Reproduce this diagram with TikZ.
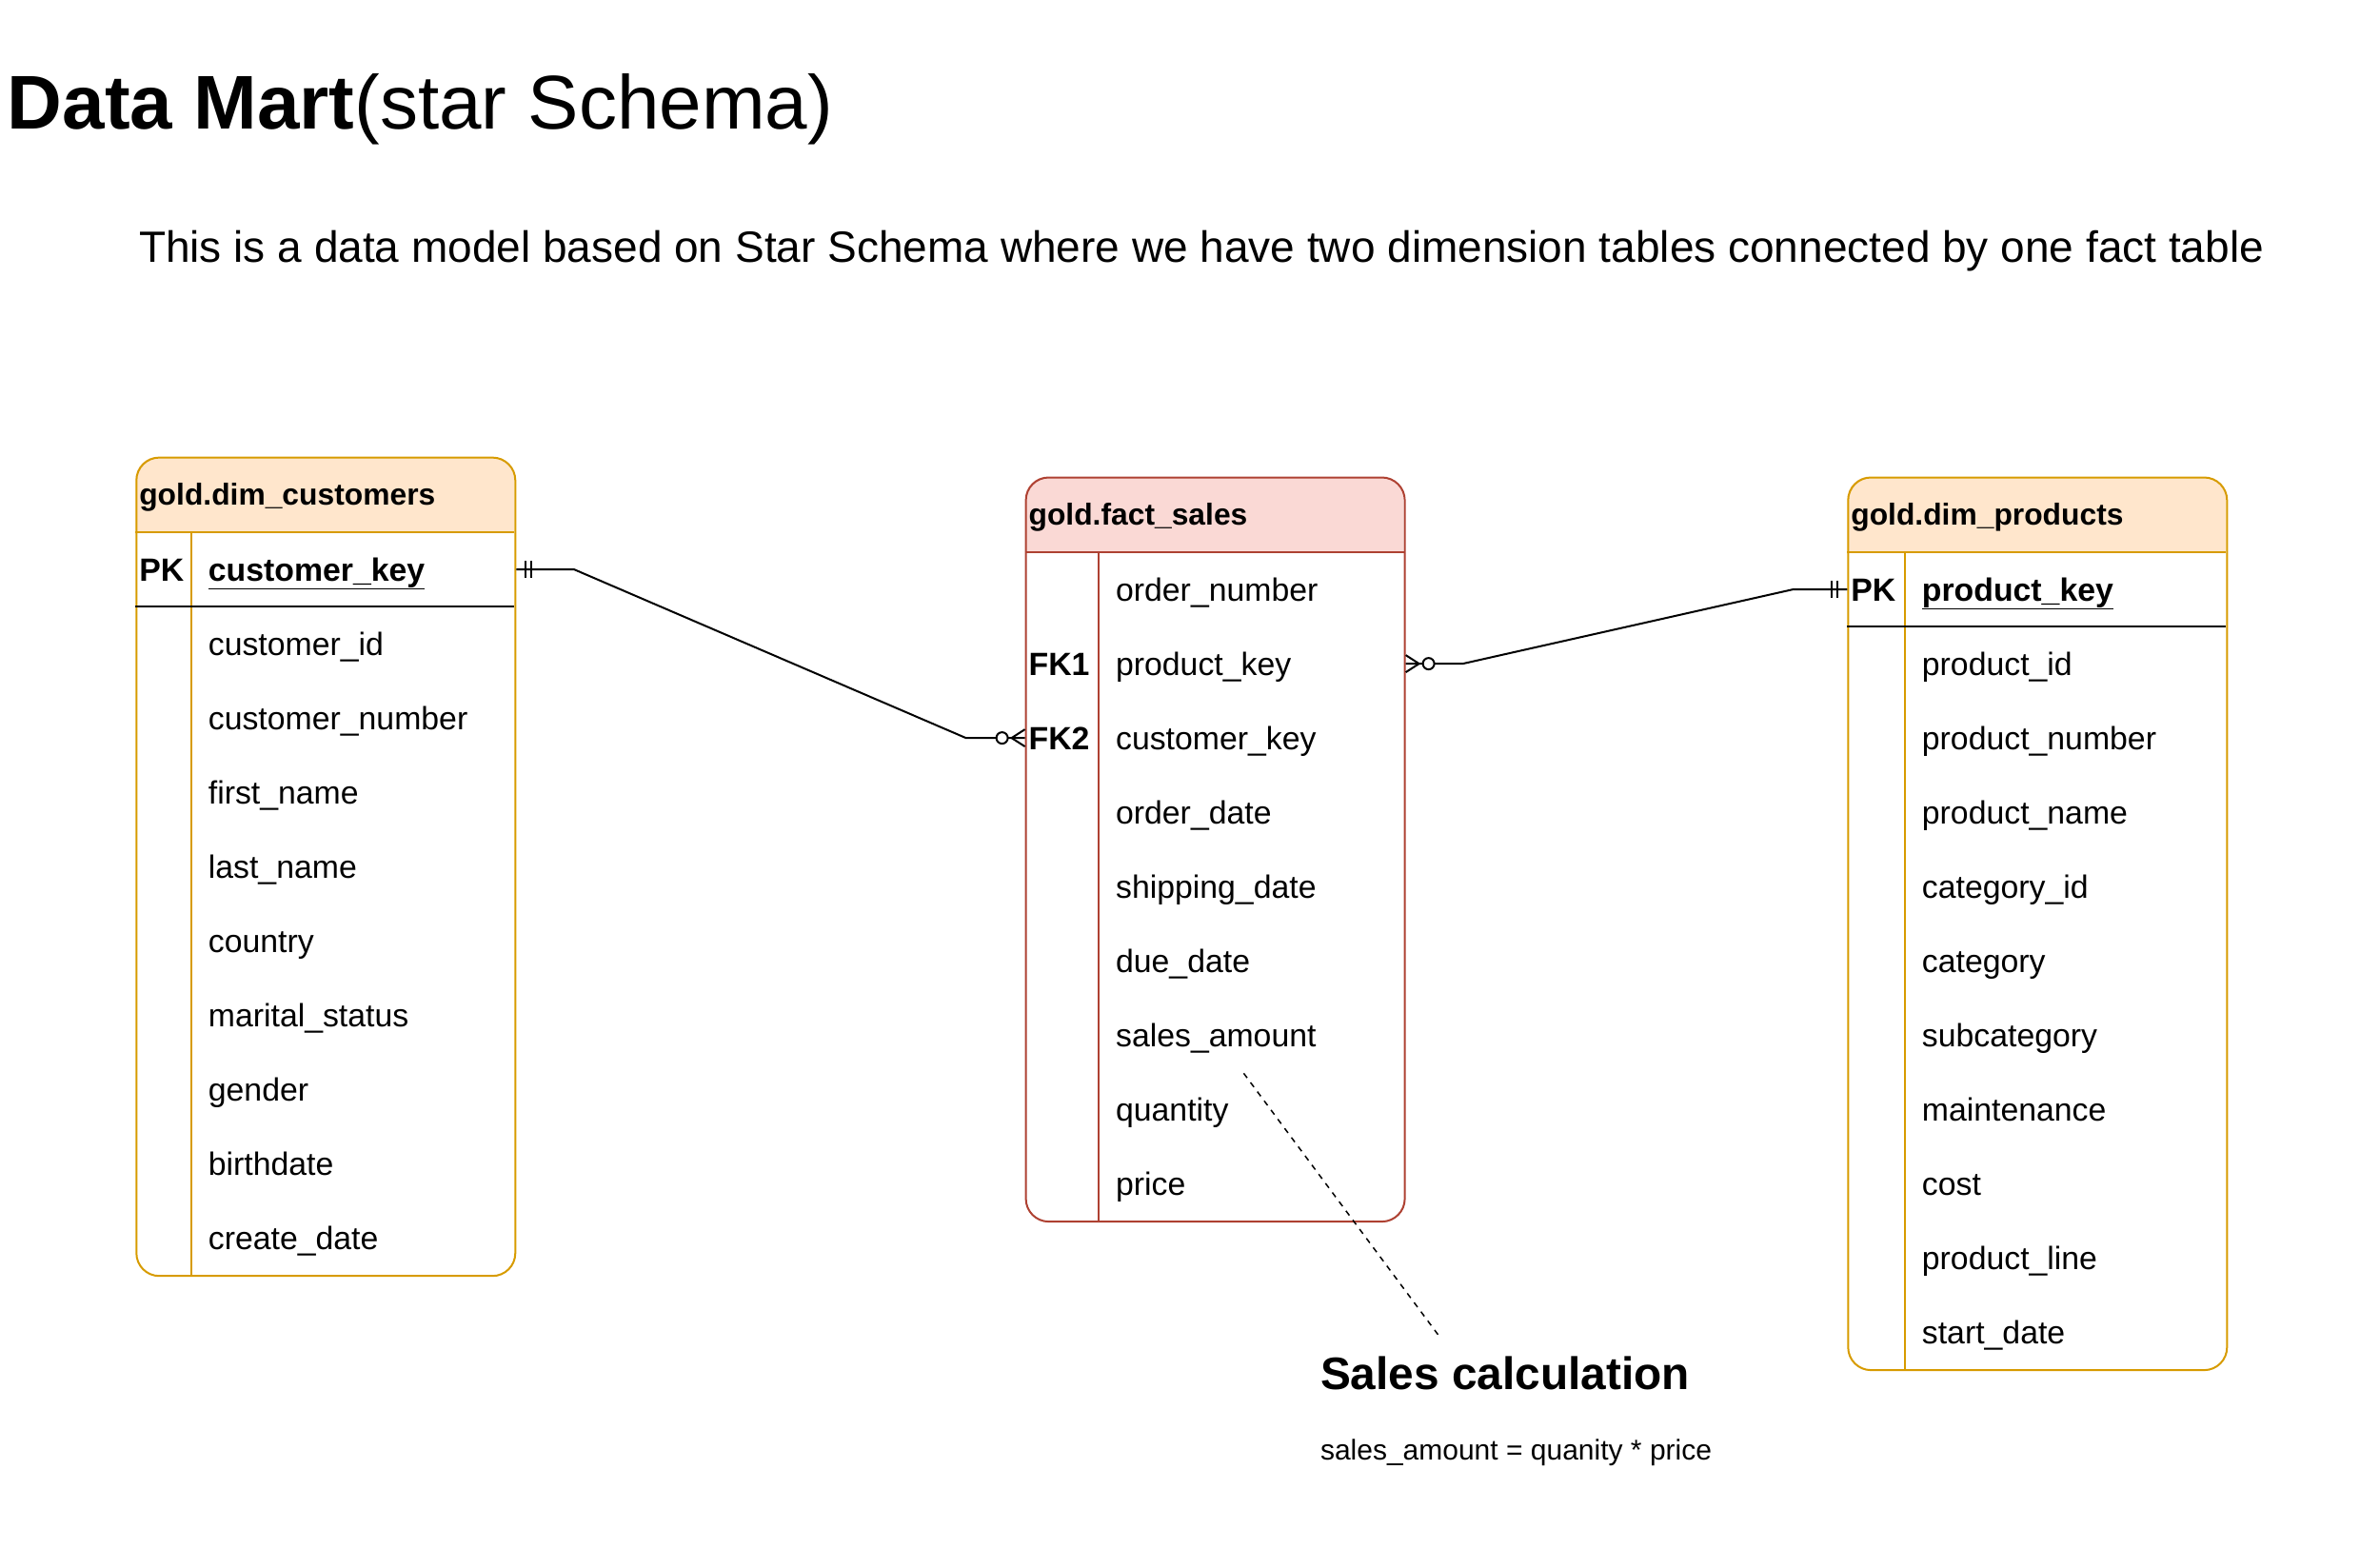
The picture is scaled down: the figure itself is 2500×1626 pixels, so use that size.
\documentclass[tikz,border=0pt]{standalone}
\usepackage{fontspec}
\setmainfont{Liberation Sans}
\usetikzlibrary{calc}
\definecolor{dimfill}{HTML}{FFE6CC}
\definecolor{dimline}{HTML}{D79B00}
\definecolor{factfill}{HTML}{FAD9D5}
\definecolor{factline}{HTML}{AE4132}
\tikzset{
    tbl/.style = {draw, rounded corners=24pt, minimum width=398pt, inner sep=0pt, anchor=north west},
    hdr/.style = {anchor=west, inner sep=0pt, text height=29pt, text depth=6pt, font=\fontsize{31.8}{38}\selectfont\bfseries},
    fld/.style = {anchor=west, inner sep=0pt, text height=30pt, text depth=6pt, font=\fontsize{33.8}{40}\selectfont},
    key/.style = {fld, font=\fontsize{33.8}{40}\selectfont\bfseries},
    mandone/.pic = {\draw (10,-9) -- (10,9) (16,-9) -- (16,9);},
    zeromany/.pic = {\draw (0,-9) -- (14,0) -- (0,9); \draw [fill=white] (24,0) circle [radius=6pt];}
}

\begin{document}
\begin{tikzpicture}[x=1pt, y=-1pt, line width=2pt]
    \useasboundingbox (0,0) rectangle (2500,1626);
    \node [anchor=base west, inner sep=0pt, font=\fontsize{80}{96}\selectfont] (title) at (7,135.3) {\textbf{Data Mart}(star Schema)};
    \node [anchor=base west, inner sep=0pt, font=\fontsize{46}{56}\selectfont] (sub) at (145,275.6) {This is a data model based on Star Schema where we have two dimension tables connected by one fact table};

    \begin{scope}
        \clip [rounded corners=24pt] (142.3,479.6) rectangle (540.3,1339.2);
        \fill [dimfill] (142.3,479.6) rectangle (540.3,559.2);
    \end{scope}
    \node [tbl, draw=dimline, minimum height=859.6pt] (cust) at (142.3,479.6) {};
    \draw [dimline] (142.3,559.2) -- (540.3,559.2);
    \draw [dimline] (201,559.2) -- (201,1339.2);
    \draw (142.3,637.2) -- (540.3,637.2);
    \node [hdr] (custhd) at (145.3,519.4) {gold.dim\_customers};
    \node [key] (custpk) at (145.3,598.2) {PK};
    \node [key] (c0) at (217.9,598.2) {\underline{customer\_key}};
    \foreach \t [count=\i] in {customer\_id, customer\_number, first\_name, last\_name, country, marital\_status, gender, birthdate, create\_date}
        \node [fld] (c\i) at (217.9,598.2+78*\i) {\t};

    \begin{scope}
        \clip [rounded corners=24pt] (1076.6,500.5) rectangle (1474.6,1282.1);
        \fill [factfill] (1076.6,500.5) rectangle (1474.6,580.1);
    \end{scope}
    \node [tbl, draw=factline, minimum height=781.6pt] (fact) at (1076.6,500.5) {};
    \draw [factline] (1076.6,580.1) -- (1474.6,580.1);
    \draw [factline] (1154.2,580.1) -- (1154.2,1282.1);
    \node [hdr] (facthd) at (1079.6,540.3) {gold.fact\_sales};
    \foreach \t [count=\i] in {order\_number, product\_key, customer\_key, order\_date, shipping\_date, due\_date, sales\_amount, quantity, price}
        \node [fld] (f\i) at (1171.1,541.1+78*\i) {\t};
    \node [key] (fk1) at (1079.6,619.1+78) {FK1};
    \node [key] (fk2) at (1079.6,619.1+156) {FK2};

    \begin{scope}
        \clip [rounded corners=24pt] (1940.3,500.5) rectangle (2338.3,1438.1);
        \fill [dimfill] (1940.3,500.5) rectangle (2338.3,580.1);
    \end{scope}
    \node [tbl, draw=dimline, minimum height=937.6pt] (prod) at (1940.3,500.5) {};
    \draw [dimline] (1940.3,580.1) -- (2338.3,580.1);
    \draw [dimline] (2000.9,580.1) -- (2000.9,1438.1);
    \draw (1940.3,658.1) -- (2338.3,658.1);
    \node [hdr] (prodhd) at (1943.3,540.3) {gold.dim\_products};
    \node [key] (prodpk) at (1943.3,619.1) {PK};
    \node [key] (p0) at (2017.9,619.1) {\underline{product\_key}};
    \foreach \t [count=\i] in {product\_id, product\_number, product\_name, category\_id, category, subcategory, maintenance, cost, product\_line, start\_date}
        \node [fld] (p\i) at (2017.9,619.1+78*\i) {\t};

    \draw (cust.east |- c0) -- ++(61,0) -- ($(fact.west |- f3)+(-62,0)$) -- (fact.west |- f3);
    \pic at (cust.east |- c0) {mandone};
    \pic [xscale=-1] at (fact.west |- f3) {zeromany};
    \draw (fact.east |- f2) -- ++(60,0) -- ($(prod.west |- p0)+(-57,0)$) -- (prod.west |- p0);
    \pic at (fact.east |- f2) {zeromany};
    \pic [xscale=-1] at (prod.west |- p0) {mandone};

    \coordinate (notetop) at (1306.4,1127.3);
    \coordinate (notebot) at (1511.4,1403);
    \draw [line width=1.5pt, dash pattern=on 6pt off 6pt] (notetop) -- (notebot);
    \node [anchor=base west, inner sep=0pt, font=\fontsize{47.8}{58}\selectfont\bfseries] (calc) at (1386,1459.7) {Sales calculation};
    \node [anchor=base west, inner sep=0pt, font=\fontsize{30}{36}\selectfont] (formula) at (1386,1533.3) {sales\_amount = quanity * price};
\end{tikzpicture}
\end{document}
